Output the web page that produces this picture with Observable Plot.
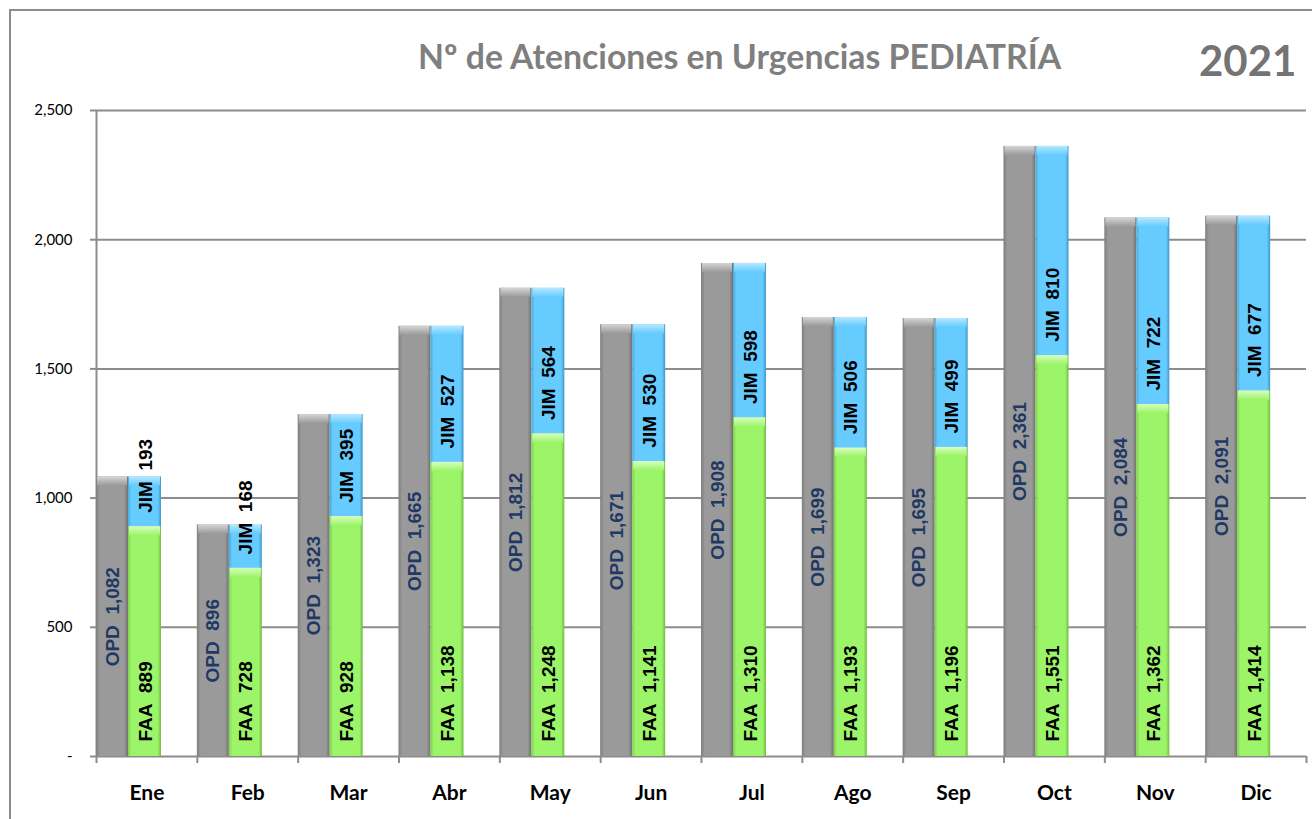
<!DOCTYPE html>
<html><head><meta charset="utf-8">
<script src="https://cdn.jsdelivr.net/npm/d3@7"></script>
<script src="https://cdn.jsdelivr.net/npm/@observablehq/plot@0.6"></script>
<style>
body{margin:0;background:#fff;}
#wrap{position:relative;width:1312px;height:819px;overflow:hidden;background:#fff;}
#chart{position:absolute;left:0;top:0;}
#frame{position:absolute;left:9px;top:9px;width:1330px;height:840px;border:2px solid #8c8c8c;box-sizing:border-box;pointer-events:none;}
#title{position:absolute;left:418px;top:36px;font-family:Lato,sans-serif;font-weight:bold;font-size:33.8px;color:#7f7f7f;white-space:nowrap;}
#year{position:absolute;left:1199px;top:35px;font-family:Lato,sans-serif;font-weight:bold;font-size:42px;color:#747474;}
</style></head>
<body><div id="wrap"><div id="chart"></div><div id="frame"></div>
<div id="title">Nº de Atenciones en Urgencias PEDIATRÍA</div><div id="year">2021</div></div>
<script>
const months = ["Ene","Feb","Mar","Abr","May","Jun","Jul","Ago","Sep","Oct","Nov","Dic"];
const opd = [1082,896,1323,1665,1812,1671,1908,1699,1695,2361,2084,2091];
const faa = [889,728,928,1138,1248,1141,1310,1193,1196,1551,1362,1414];
const jim = [193,168,395,527,564,530,598,506,499,810,722,677];
const yTicks = [0,500,1000,1500,2000,2500];

const data = months.map((m,i)=>({month:m, opd:opd[i], faa:faa[i], jim:jim[i]}));
const fmt = d3.format(",");
const W = 1312, H = 819, mL = 96, mR = 6;
const bw = (W - mL - mR) / months.length;
const half = bw / 2;
const grid = "#8c8c8c";
const labelFont = "'Liberation Sans', Arial, sans-serif";
const sp = "\u00a0\u00a0";

const plot = Plot.plot({
  width: W, height: H,
  marginLeft: mL, marginRight: mR, marginTop: 110, marginBottom: 63,
  style: {background: "transparent", fontFamily: "Lato, sans-serif"},
  x: {type: "band", domain: months, paddingInner: 0, paddingOuter: 0, round: false},
  y: {domain: [0, 2500]},
  marks: [
    Plot.ruleY(yTicks.slice(1), {stroke: grid, strokeWidth: 2}),
    Plot.ruleY([0], {stroke: grid, strokeWidth: 2}),
    Plot.ruleX([months[0]], {x: d => d, y1: 0, y2: 2500, dx: -half, stroke: grid, strokeWidth: 2}),
    Plot.ruleX(months, {x: d => d, y1: 0, y2: 0, insetBottom: -7, dx: -half, stroke: grid, strokeWidth: 2}),
    Plot.ruleX([months[months.length-1]], {x: d => d, y1: 0, y2: 0, insetBottom: -7, dx: half, stroke: grid, strokeWidth: 2}),
    Plot.axisY({ticks: yTicks, tickFormat: d => d === 0 ? "-" : fmt(d), tickSize: 6, tickPadding: 18, fontSize: 15, stroke: grid, strokeWidth: 2, fill: "#000"}),
    Plot.axisX({tickSize: 0, tickPadding: 29, fontSize: 21, fontWeight: "bold", fill: "#000", label: null}),
    // bars
    Plot.barY(data, {x: "month", y1: 0, y2: "opd", fill: "url(#gGray)", insetLeft: 0, insetRight: bw - 32}),
    Plot.barY(data, {x: "month", y1: 0, y2: "faa", fill: "url(#gGreen)", insetLeft: 32, insetRight: bw - 65}),
    Plot.barY(data, {x: "month", y1: "faa", y2: "opd", fill: "url(#gBlue)", insetLeft: 32, insetRight: bw - 65}),
    // top bevels
    Plot.barY(data, {x: "month", y1: "opd", y2: "opd", insetBottom: -9, fill: "url(#bGray)", insetLeft: 1, insetRight: bw - 31}),
    Plot.barY(data, {x: "month", y1: "faa", y2: "faa", insetBottom: -9, fill: "url(#bGreen)", insetLeft: 33, insetRight: bw - 64}),
    Plot.barY(data, {x: "month", y1: "opd", y2: "opd", insetBottom: -9, fill: "url(#bBlue)", insetLeft: 33, insetRight: bw - 64}),
    // labels
    Plot.text(data, {x: "month", y: d => d.opd / 2, text: d => "OPD" + sp + fmt(d.opd), rotate: -90, dx: -half + 16,
      textAnchor: "middle", fill: "#1f3864", fontWeight: "bold", fontSize: 19, fontFamily: labelFont}),
    Plot.text(data, {x: "month", y: 0, text: d => "FAA" + sp + fmt(d.faa), rotate: -90, dx: -half + 49, dy: -15,
      textAnchor: "start", fill: "#000", fontWeight: "bold", fontSize: 19, fontFamily: labelFont}),
    Plot.text(data, {x: "month", y: "faa", text: d => "JIM" + sp + fmt(d.jim), rotate: -90, dx: -half + 49, dy: -14,
      textAnchor: "start", fill: "#000", fontWeight: "bold", fontSize: 19, fontFamily: labelFont})
  ]
});

const defs = d3.select(plot).insert("defs", ":first-child");
function hgrad(id, stops) {
  const g = defs.append("linearGradient").attr("id", id).attr("x1", 0).attr("x2", 1).attr("y1", 0).attr("y2", 0);
  stops.forEach(([o, c]) => g.append("stop").attr("offset", o).attr("stop-color", c));
}
function vgrad(id, stops) {
  const g = defs.append("linearGradient").attr("id", id).attr("x1", 0).attr("x2", 0).attr("y1", 0).attr("y2", 1);
  stops.forEach(([o, c]) => g.append("stop").attr("offset", o).attr("stop-color", c));
}
hgrad("gGray", [[0, "#7e7e7e"], [0.12, "#9a9a9a"], [0.88, "#9a9a9a"], [1, "#707070"]]);
hgrad("gGreen", [[0, "#7fcf4f"], [0.1, "#9cf468"], [0.9, "#9cf468"], [1, "#6fbb42"]]);
hgrad("gBlue", [[0, "#4aa9da"], [0.1, "#66ccff"], [0.9, "#66ccff"], [1, "#3f97c8"]]);
vgrad("bGray", [[0, "#d6d6d6"], [1, "#9a9a9a"]]);
vgrad("bGreen", [[0, "#d8ffc0"], [1, "#9cf468"]]);
vgrad("bBlue", [[0, "#b8e8ff"], [1, "#66ccff"]]);

document.getElementById("chart").appendChild(plot);
</script>
</body></html>
